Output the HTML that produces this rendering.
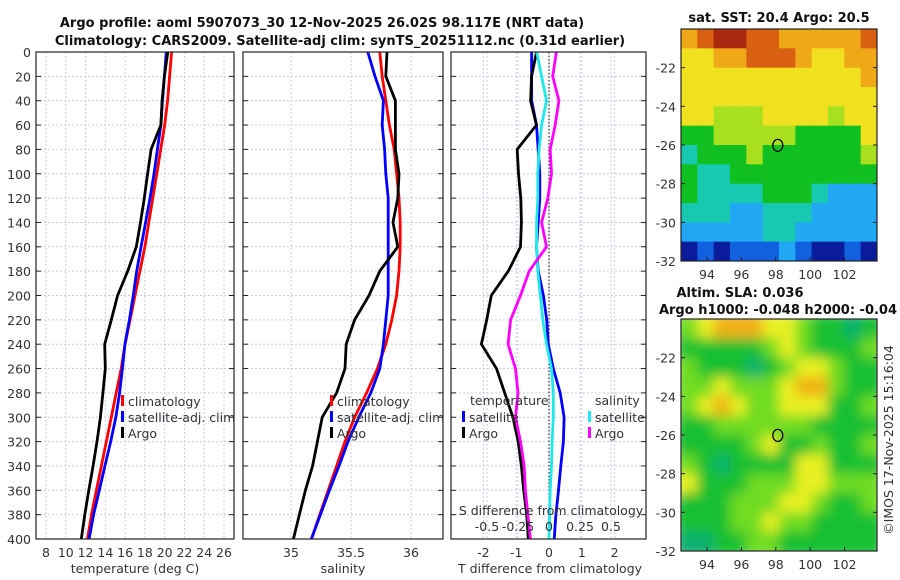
<!DOCTYPE html>
<html><head><meta charset="utf-8">
<style>
body{margin:0;background:#fff;}
svg{display:block;font-family:"DejaVu Sans","Liberation Sans",sans-serif;}
.t{font-size:12.5px;fill:#333;}
.b{font-size:13px;font-weight:bold;fill:#111;}
</style></head>
<body>
<svg id="fig" width="900" height="580" viewBox="0 0 900 580" xmlns="http://www.w3.org/2000/svg">
<text class="b" x="322" y="27" text-anchor="middle">Argo profile: aoml 5907073_30 12-Nov-2025 26.02S 98.117E (NRT data)</text>
<text class="b" x="340" y="45" text-anchor="middle">Climatology: CARS2009. Satellite-adj clim: synTS_20251112.nc (0.31d earlier)</text>
<text class="b" x="779" y="22" text-anchor="middle">sat. SST: 20.4 Argo: 20.5</text>
<text class="b" x="740" y="297" text-anchor="middle">Altim. SLA: 0.036</text>
<text class="b" x="778" y="314" text-anchor="middle">Argo h1000: -0.048 h2000: -0.04</text>
<text class="t" transform="translate(893,440) rotate(-90)" text-anchor="middle">©IMOS 17-Nov-2025 15:16:04</text>
<g id="plots"></g>
</svg>
<script>
// ---- data ----
const depths=[0,20,40,60,80,100,120,140,160,180,200,220,240,260,280,300,320,340,360,380,400];
const tClim=[20.7,20.5,20.3,20.0,19.6,19.2,18.8,18.4,18.0,17.5,17.0,16.5,16.0,15.6,15.1,14.6,14.1,13.6,13.1,12.6,12.2];
const tSatDiff=[-0.53,-0.53,-0.53,-0.38,-0.33,-0.28,-0.28,-0.33,-0.38,-0.33,-0.17,-0.07,-0.02,0.13,0.34,0.46,0.44,0.36,0.29,0.21,0.16];
const tArgoDiff=[-0.38,-0.53,-0.56,-0.38,-0.97,-0.93,-0.86,-0.84,-0.87,-1.24,-1.76,-1.9,-2.06,-1.6,-1.35,-1.1,-0.94,-0.84,-0.77,-0.68,-0.63];
const sClim=[35.74,35.76,35.79,35.82,35.86,35.88,35.90,35.91,35.91,35.90,35.88,35.84,35.79,35.72,35.63,35.53,35.45,35.38,35.31,35.24,35.17];
const sSatDiff=[-0.10,-0.06,-0.02,-0.06,-0.08,-0.09,-0.09,-0.10,-0.10,-0.09,-0.07,-0.05,-0.02,0.02,0.035,0.035,0.025,0.02,0.01,0.005,0.0];
const sArgoDiff=[0.06,0.03,0.08,0.05,0.01,0.02,-0.01,-0.06,-0.02,-0.16,-0.23,-0.31,-0.33,-0.27,-0.25,-0.27,-0.23,-0.2,-0.19,-0.17,-0.15];
const tTicks=[8,10,12,14,16,18,20,22,24,26];
const sTicks=[35,35.5,36];
const tdTicks=[-2,-1,0,1,2];
const sdTicks=[-0.5,-0.25,0,0.25,0.5];
const sstGrid=[
[7,8,9,9,8,8,7,7,7,7,7,8],[6,6,7,7,8,8,8,7,6,6,7,7],[6,6,6,6,6,6,6,6,6,6,6,7],[6,6,6,6,6,6,6,6,6,6,6,6],
[6,6,5,5,5,6,6,6,6,5,6,6],[4,4,5,5,5,5,5,4,4,4,4,6],[3,4,4,4,5,4,4,4,4,4,4,5],[4,3,3,4,4,4,4,4,4,4,4,4],
[4,3,3,3,3,4,4,4,3,2,2,2],[3,3,3,2,2,3,3,3,2,2,2,2],[2,2,2,2,2,3,3,2,2,2,2,2],[0,1,0,1,1,1,2,1,0,0,1,0]];
const slaGrid=[
[2,3,4,4,4,3,3,2,1,1,0,1],[1,1,1,1,1,2,3,2,1,1,1,2],[2,1,1,1,0,1,2,3,3,2,1,1],[2,2,3,2,2,2,3,4,4,2,1,1],
[2,3,4,3,2,2,3,3,3,1,1,2],[1,1,2,2,2,2,2,2,1,1,1,1],[1,1,1,1,2,3,1,1,2,1,1,2],[2,1,0,1,1,1,1,3,3,1,1,1],
[3,1,1,1,2,2,2,3,3,2,2,2],[1,1,1,2,2,2,3,3,2,1,1,2],[1,1,1,2,2,3,2,2,1,1,1,1],[0,0,1,1,2,2,1,1,1,1,1,1]];
const lonTicks=[94,96,98,100,102];
const latTicks=[-22,-24,-26,-28,-30,-32];
const floatPos=[98.117,-26.02];
// ---- helpers ----
const NS='http://www.w3.org/2000/svg';
const root=document.getElementById('plots');
function mk(tag,at,parent){const e=document.createElementNS(NS,tag);for(const k in at)e.setAttribute(k,at[k]);(parent||root).appendChild(e);return e;}
function txt(x,y,s,anchor,cls){const e=mk('text',{x:x,y:y,'text-anchor':anchor||'middle',class:cls||'t'});e.textContent=s;return e;}
const Y0=52,Y1=539;
const yD=d=>Y0+(d/400)*(Y1-Y0);
const xT=v=>46+(v-8)*(178/18);
const xS=v=>291+(v-35)*120;
const xTD=v=>549+v*32.8;
const xSD=v=>549+v*124;
const panels=[[36,234],[243,443],[451,646]];
function grid(p,xs){
  const [a,b]=panels[p];
  depths.forEach(d=>{const l=mk('line',{x1:a,x2:b,y1:yD(d),y2:yD(d),stroke:'#c8cce8','stroke-width':1,'stroke-dasharray':'2,2'});
    
    
    mk('line',{x1:a,x2:a+5,y1:yD(d),y2:yD(d),stroke:'#222'});mk('line',{x1:b-5,x2:b,y1:yD(d),y2:yD(d),stroke:'#222'});});
  xs.forEach(x=>{const l=mk('line',{x1:x,x2:x,y1:Y0,y2:Y1,stroke:'#c8cce8','stroke-width':1,'stroke-dasharray':'2,2'});
    
    });
}
function frame(p,name){const [a,b]=panels[p];const r=mk('rect',{x:a,y:Y0,width:b-a,height:Y1-Y0,fill:'none',stroke:'#222','stroke-width':1.2});
  
  }
function line(xf,vals,color,name){const pts=vals.map((v,i)=>xf(v).toFixed(1)+','+yD(depths[i]).toFixed(1)).join(' ');
  const l=mk('polyline',{points:pts,fill:'none',stroke:color,'stroke-width':2.8,'stroke-linejoin':'round'});
  
  }
const tSat=tClim.map((v,i)=>v+tSatDiff[i]);
const tArgo=tClim.map((v,i)=>v+tArgoDiff[i]);
const sSat=sClim.map((v,i)=>v+sSatDiff[i]);
const sArgo=sClim.map((v,i)=>v+sArgoDiff[i]);
// panel 1
grid(0,tTicks.map(xT));
depths.forEach(d=>{const e=txt(31,yD(d)+5,String(d),'end');
  
  });
tTicks.forEach(v=>{const e=txt(xT(v),557,String(v));
  
  });
let e=txt(135,573,'temperature (deg C)');


line(xT,tClim,'#ff0000','temp-climatology-line');
line(xT,tSat,'#0000ff','temp-satellite-line');
line(xT,tArgo,'#000','temp-argo-line');
frame(0,'temperature-panel');
// panel 2
grid(1,sTicks.map(xS));
sTicks.forEach(v=>{const e=txt(xS(v),557,String(v));
  
  });
e=txt(343,573,'salinity');


line(xS,sClim,'#ff0000','sal-climatology-line');
line(xS,sSat,'#0000ff','sal-satellite-line');
line(xS,sArgo,'#000','sal-argo-line');
frame(1,'salinity-panel');
// panel 3
grid(2,tdTicks.map(xTD).concat(sdTicks.map(xSD)));
const z=mk('line',{x1:549,x2:549,y1:Y0,y2:Y1,stroke:'#333','stroke-width':1.2,'stroke-dasharray':'1.5,2'});


line(xTD,tSatDiff,'#0000ff','tdiff-satellite-line');
line(xTD,tArgoDiff,'#000','tdiff-argo-line');
line(xSD,sSatDiff,'#20e8e8','sdiff-satellite-line');
line(xSD,sArgoDiff,'#ff00ff','sdiff-argo-line');
frame(2,'difference-panel');
tdTicks.forEach(v=>{const e=txt(xTD(v),557,String(v));
  
  });
e=txt(550,573,'T difference from climatology');


sdTicks.forEach(v=>{const e=txt(xSD(v),531,String(v));
  
  });
e=txt(551,515,'S difference from climatology');


// legends
function leg(x,y,color,label,name){const r=mk('rect',{x:x,y:y-11,width:3,height:11,fill:color});
  const t=txt(x+7,y,label,'start');
  const g=mk('g',{});g.appendChild(r);g.appendChild(t);
  
  }
leg(121,406,'#ff0000','climatology','legend-climatology');
leg(121,422,'#0000ff','satellite-adj. clim','legend-satellite-adj');
leg(121,438,'#000','Argo','legend-argo');
leg(330,406,'#ff0000','climatology','legend-sal-climatology');
leg(330,422,'#0000ff','satellite-adj. clim','legend-sal-satellite-adj');
leg(330,438,'#000','Argo','legend-sal-argo');
e=txt(470,405,'temperature','start');


leg(462,422,'#0000ff','satellite','legend-tdiff-satellite');
leg(462,438,'#000','Argo','legend-tdiff-argo');
e=txt(595,405,'salinity','start');


leg(588,422,'#20e8e8','satellite','legend-sdiff-satellite');
leg(588,438,'#ff00ff','Argo','legend-sdiff-argo');
// maps
const MX0=681,MX1=877;
const lonX=v=>707+(v-94)*17.2;
const sstPal=['#0a1c9c','#1060e0','#20a8f4','#18c8b0','#10c020','#a8e020','#f0e020','#f0a818','#d86010','#a82810'];
const slaPal=['#10b070','#18c030','#70dc20','#e8f020','#f0b018'];
function map(top,bot,gridData,pal,name,blur){
  const latY=v=>top+(-20-v)*((bot-top)/12);
  const g=mk('g',{});
  
  
  const cid='clip'+name;
  const cp=mk('clipPath',{id:cid},g);mk('rect',{x:MX0,y:top,width:MX1-MX0,height:bot-top},cp);
  const cg=mk('g',{'clip-path':'url(#'+cid+')'},g);
  const inner=mk('g',blur?{filter:'url(#blur)'}:{},cg);
  const cw=(MX1-MX0)/12,ch=(bot-top)/12;
  gridData.forEach((row,r)=>row.forEach((v,c)=>{
    const cell=mk('rect',{x:MX0+c*cw-(blur?6:0)*(c==0),y:top+r*ch-(blur?6:0)*(r==0),width:cw+0.6+(blur?6:0)*(c==0||c==11),height:ch+0.6+(blur?6:0)*(r==0||r==11),fill:pal[v]},inner);
    
    
  }));
  mk('rect',{x:MX0,y:top,width:MX1-MX0,height:bot-top,fill:'none',stroke:'#222','stroke-width':1.2},g);
  lonTicks.forEach(v=>{mk('line',{x1:lonX(v),x2:lonX(v),y1:bot,y2:bot-4,stroke:'#222'},g);
    const t=txt(lonX(v),bot+18,String(v));g.appendChild(t);
    
    });
  latTicks.forEach(v=>{mk('line',{x1:MX0,x2:MX0+4,y1:latY(v),y2:latY(v),stroke:'#222'},g);
    mk('line',{x1:MX1,x2:MX1-4,y1:latY(v),y2:latY(v),stroke:'#222'},g);
    const t=txt(MX0-5,latY(v)+5,String(v),'end');g.appendChild(t);
    
    });
  const m=mk('ellipse',{cx:lonX(floatPos[0]),cy:latY(floatPos[1]),rx:5,ry:6,fill:'none',stroke:'#000','stroke-width':1.3},g);
  
  
}
const defs=mk('defs',{});const f=mk('filter',{id:'blur',x:'-5%',y:'-5%',width:'110%',height:'110%'},defs);mk('feGaussianBlur',{stdDeviation:6},f);
map(29,261,sstGrid,sstPal,'sst-map',false);
map(319,551,slaGrid,slaPal,'sla-map',true);
</script>
</body></html>
